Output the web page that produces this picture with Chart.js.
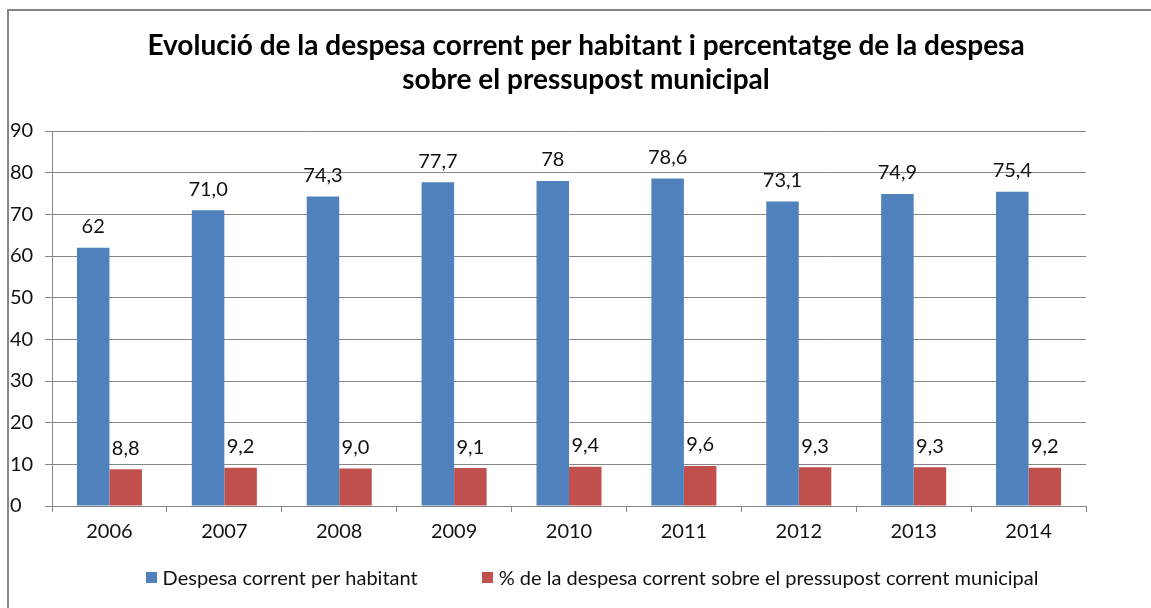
<!DOCTYPE html>
<html>
<head>
<meta charset="utf-8">
<script src="https://cdn.jsdelivr.net/npm/chart.js@4/dist/chart.umd.min.js"></script>
<style>
  html, body { margin: 0; padding: 0; background: #fff; overflow: hidden; }
  #wrap { position: relative; width: 1151px; height: 608px; }
  #frame { position: absolute; left: 7px; top: 9px; width: 2000px; height: 2000px;
           border-left: 2px solid #868686; border-top: 2px solid #868686; box-sizing: border-box; }
  canvas { position: absolute; left: 0; top: 0; }
</style>
</head>
<body>
<div id="wrap">
  <div id="frame"></div>
  <canvas id="c" width="1151" height="608"></canvas>
</div>
<script>
const categories = ['2006','2007','2008','2009','2010','2011','2012','2013','2014'];
const despesaHabitant = [62, 71.0, 74.3, 77.7, 78, 78.6, 73.1, 74.9, 75.4];
const percentDespesa = [8.8, 9.2, 9.0, 9.1, 9.4, 9.6, 9.3, 9.3, 9.2];
const despesaLabels = ['62','71,0','74,3','77,7','78','78,6','73,1','74,9','75,4'];
const percentLabels = ['8,8','9,2','9,0','9,1','9,4','9,6','9,3','9,3','9,2'];
const seriesNames = ['Despesa corrent per habitant', '% de la despesa corrent sobre el pressupost corrent municipal'];
const titleLines = ['Evolució de la despesa corrent per habitant i percentatge de la despesa', 'sobre el pressupost municipal'];
const yTicks = [0, 10, 20, 30, 40, 50, 60, 70, 80, 90];

const FONT = 'Lato, "Open Sans", sans-serif';
const gridColor = '#868686';
const textColor = '#111';

const labelsPlugin = {
  id: 'customDraw',
  afterDatasetsDraw(chart) {
    const ctx = chart.ctx;
    ctx.save();
    ctx.font = '20px ' + FONT;
    ctx.fillStyle = textColor;
    ctx.textAlign = 'center';
    ctx.textBaseline = 'middle';
    const allLabels = [despesaLabels, percentLabels];
    chart.data.datasets.forEach((ds, di) => {
      const meta = chart.getDatasetMeta(di);
      meta.data.forEach((bar, i) => {
        ctx.fillText(allLabels[di][i], bar.x, bar.y - 21);
      });
    });
    ctx.restore();
  },
  afterDraw(chart) {
    const ctx = chart.ctx;
    ctx.save();
    // title
    ctx.font = 'bold 28px ' + FONT;
    ctx.fillStyle = '#000';
    ctx.textAlign = 'center';
    ctx.textBaseline = 'middle';
    ctx.fillText(titleLines[0], 586, 46);
    ctx.fillText(titleLines[1], 586, 80);
    // legend
    ctx.font = '20px ' + FONT;
    const box = 11, gap = 6, spacing = 64;
    const w1 = ctx.measureText(seriesNames[0]).width;
    const w2 = ctx.measureText(seriesNames[1]).width;
    const total = box + gap + w1 + spacing + box + gap + w2;
    let x = 592 - total / 2;
    const y = 577.5;
    ctx.textAlign = 'left';
    chart.data.datasets.forEach((ds, di) => {
      ctx.fillStyle = ds.backgroundColor;
      ctx.fillRect(Math.round(x), Math.round(y - box / 2), box, box);
      x += box + gap;
      ctx.fillStyle = textColor;
      ctx.fillText(seriesNames[di], x, y + 1);
      x += (di === 0 ? w1 : w2) + spacing;
    });
    ctx.restore();
  }
};

new Chart(document.getElementById('c'), {
  type: 'bar',
  data: {
    labels: categories,
    datasets: [
      { label: seriesNames[0], data: despesaHabitant, backgroundColor: '#4F81BD',
        categoryPercentage: 0.566, barPercentage: 1.0 },
      { label: seriesNames[1], data: percentDespesa, backgroundColor: '#C0504D',
        categoryPercentage: 0.566, barPercentage: 1.0 }
    ]
  },
  options: {
    responsive: false,
    animation: false,
    devicePixelRatio: 1,
    layout: { padding: { left: 10, top: 131, right: 65, bottom: 62 } },
    plugins: {
      legend: { display: false },
      title: { display: false },
      tooltip: { enabled: false }
    },
    scales: {
      x: {
        grid: { display: true, offset: true, drawOnChartArea: false, drawTicks: true,
                tickLength: 6, color: gridColor, lineWidth: 1 },
        border: { display: true, color: gridColor, width: 1 },
        ticks: { font: { family: FONT, size: 20 }, color: textColor, padding: 8, maxRotation: 0 },
        afterFit(scale) { scale.height = 40; }
      },
      y: {
        min: 0, max: 90,
        afterBuildTicks(scale) { scale.ticks = yTicks.map(v => ({ value: v })); },
        grid: { color: gridColor, lineWidth: 1, tickLength: 7, drawTicks: true },
        border: { display: true, color: gridColor, width: 1 },
        ticks: { font: { family: FONT, size: 20 }, color: textColor, crossAlign: 'far', padding: 4 },
        afterFit(scale) { scale.width = 42; }
      }
    }
  },
  plugins: [labelsPlugin]
});
</script>
</body>
</html>
